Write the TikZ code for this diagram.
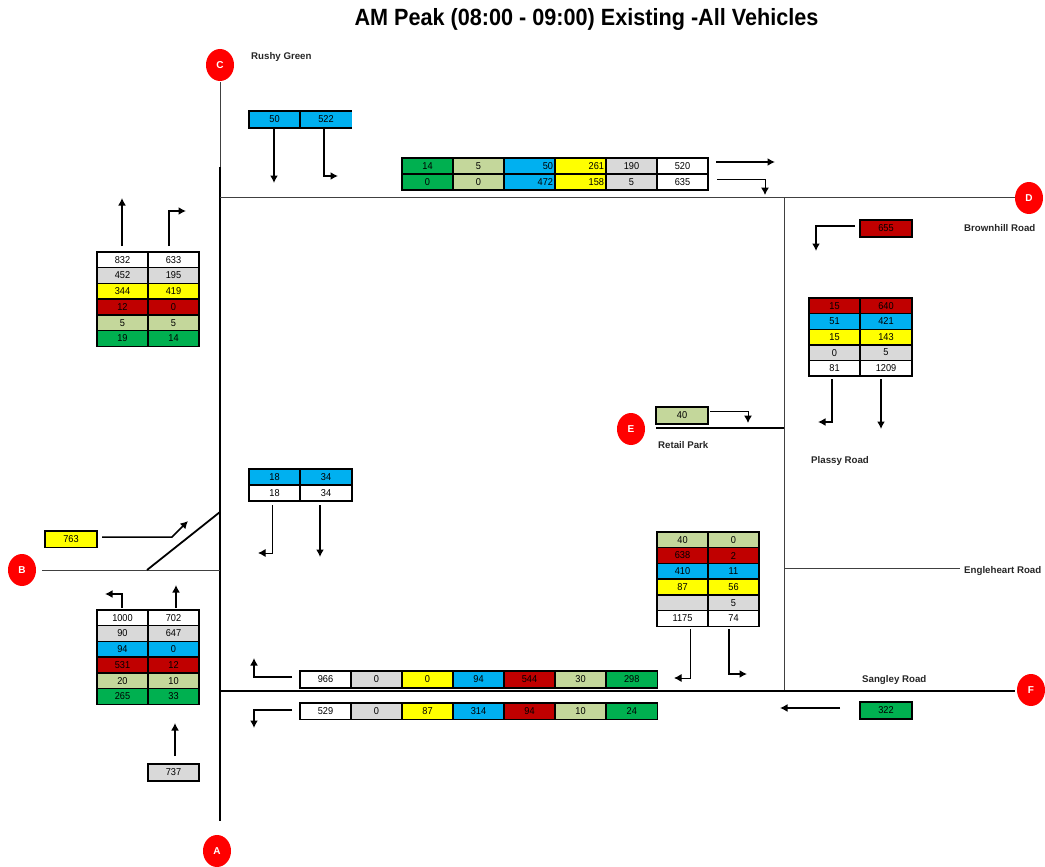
\documentclass[tikz,border=0pt]{standalone}
\usepackage{fontspec}
\setmainfont{Liberation Sans}
\usetikzlibrary{arrows.meta,shapes.geometric}
\definecolor{cgreen}{HTML}{00B050}
\definecolor{colive}{HTML}{C4D79B}
\definecolor{cblue}{HTML}{00B0F0}
\definecolor{cyel}{HTML}{FFFF00}
\definecolor{cred}{HTML}{C00000}
\definecolor{cgrey}{HTML}{D9D9D9}
\tikzset{
  cell/.style={draw=black,line width=1.4pt,inner sep=0pt,outer sep=0pt,anchor=north west,font=\fontsize{10}{10}\selectfont\addfontfeature{FakeStretch=0.92},text=black},
  road/.style={draw=black!75,line width=1pt},
  mainroad/.style={draw=black,line width=1.8pt},
  arr/.style={draw=black,line width=1.5pt,-{Latex[length=7.5pt,width=8pt]}},
  thinarr/.style={draw=black,line width=1pt,-{Latex[length=7.5pt,width=8pt]}},
  pin/.style={ellipse,fill=red,inner sep=0pt,minimum width=28pt,minimum height=32pt,text=white,font=\fontsize{10}{10}\selectfont\bfseries},
  lab/.style={anchor=west,inner sep=0pt,font=\fontsize{9.7}{10}\selectfont\bfseries,text=black!85},
}
% name, x, y, w, h, colour, text
\newcommand{\cellbox}[7]{\node[cell,fill=#6,minimum width=#4pt,minimum height=#5pt,text width=#4pt-4pt,align=center] (#1) at (#2,#3) {#7};}
\newcommand{\cellr}[7]{\node[cell,fill=#6,minimum width=#4pt,minimum height=#5pt,text width=#4pt-4pt,align=right] (#1) at (#2,#3) {#7};}
\begin{document}
\begin{tikzpicture}[x=1pt,y=-1pt]
\useasboundingbox (0,0) rectangle (1045,867);
\node[font=\fontsize{23.5}{24}\selectfont\bfseries,inner sep=0pt] (title) at (586.5,19) {\addfontfeature{FakeStretch=0.92}AM Peak (08:00 - 09:00) Existing -All Vehicles};

% roads
\coordinate (rn) at (220,82); \coordinate (rj) at (220,167); \coordinate (rs) at (220,821);
\coordinate (hn) at (220,197); \coordinate (he) at (1015,197);
\coordinate (vt) at (784,197); \coordinate (vb) at (784,691);
\coordinate (ew) at (656,428); \coordinate (ee) at (784,428);
\coordinate (eg1) at (784,568); \coordinate (eg2) at (960,568);
\coordinate (sw) at (220,691); \coordinate (se) at (1015,691);
\coordinate (bw) at (42,570); \coordinate (be) at (220,570);
\coordinate (d1) at (147,570); \coordinate (d2) at (220,512);
\draw[road] (rn) -- (rj);
\draw[mainroad] (rj) -- (rs);
\draw[road] (hn) -- (he);
\draw[road] (vt) -- (vb);
\draw[mainroad] (ew) -- (ee);
\draw[road] (eg1) -- (eg2);
\draw[mainroad] (sw) -- (se);
\draw[road] (bw) -- (be);
\draw[mainroad] (d1) -- (d2);

% pins
\node[pin] (pC) at (220,65) {C};
\node[pin] (pD) at (1029,198) {D};
\node[pin] (pE) at (631,429) {E};
\node[pin] (pB) at (22,570) {B};
\node[pin] (pF) at (1031,690) {F};
\node[pin] (pA) at (217,851) {A};

% labels
\node[lab] (l1) at (251,57) {Rushy Green};
\node[lab] (l2) at (964,228) {Brownhill Road};
\node[lab] (l3) at (658,445) {Retail Park};
\node[lab] (l4) at (811,461) {Plassy Road};
\node[lab] (l5) at (964,571) {Engleheart Road};
\node[lab] (l6) at (862,680) {Sangley Road};

% top-left pair
\node[cell,draw=none,fill=cblue,minimum width=52pt,minimum height=17pt,text width=48pt,align=center] (a2) at (300,111) {522};
\draw[line width=1.4pt] (a2.north west) -- (a2.north east);
\draw[line width=1.4pt] (a2.south west) -- (a2.south east);
\cellbox{a1}{249}{111}{51}{17}{cblue}{50}

% top strip
\cellbox{b1}{402}{158}{51}{16}{cgreen}{14}
\cellbox{b2}{453}{158}{51}{16}{colive}{5}
\cellr{b3}{504}{158}{51}{16}{cblue}{50}
\cellr{b4}{555}{158}{51}{16}{cyel}{261}
\cellbox{b5}{606}{158}{51}{16}{cgrey}{190}
\cellbox{b6}{657}{158}{51}{16}{white}{520}
\cellbox{b7}{402}{174}{51}{16}{cgreen}{0}
\cellbox{b8}{453}{174}{51}{16}{colive}{0}
\cellr{b9}{504}{174}{51}{16}{cblue}{472}
\cellr{b10}{555}{174}{51}{16}{cyel}{158}
\cellbox{b11}{606}{174}{51}{16}{cgrey}{5}
\cellbox{b12}{657}{174}{51}{16}{white}{635}

% left table
\cellbox{c1}{97}{252}{51}{15.7}{white}{832}
\cellbox{c2}{148}{252}{51}{15.7}{white}{633}
\cellbox{c3}{97}{267.7}{51}{15.7}{cgrey}{452}
\cellbox{c4}{148}{267.7}{51}{15.7}{cgrey}{195}
\cellbox{c5}{97}{283.4}{51}{15.7}{cyel}{344}
\cellbox{c6}{148}{283.4}{51}{15.7}{cyel}{419}
\cellbox{c7}{97}{299.1}{51}{15.7}{cred}{12}
\cellbox{c8}{148}{299.1}{51}{15.7}{cred}{0}
\cellbox{c9}{97}{314.8}{51}{15.7}{colive}{5}
\cellbox{c10}{148}{314.8}{51}{15.7}{colive}{5}
\cellbox{c11}{97}{330.5}{51}{15.7}{cgreen}{19}
\cellbox{c12}{148}{330.5}{51}{15.7}{cgreen}{14}

% right table
\cellbox{d0}{860}{220}{52}{17}{cred}{655}
\cellbox{d1c}{809}{298}{51}{15.6}{cred}{15}
\cellbox{d2c}{860}{298}{52}{15.6}{cred}{640}
\cellbox{d3c}{809}{313.6}{51}{15.6}{cblue}{51}
\cellbox{d4c}{860}{313.6}{52}{15.6}{cblue}{421}
\cellbox{d5c}{809}{329.2}{51}{15.6}{cyel}{15}
\cellbox{d6c}{860}{329.2}{52}{15.6}{cyel}{143}
\cellbox{d7c}{809}{344.8}{51}{15.6}{cgrey}{0}
\cellbox{d8c}{860}{344.8}{52}{15.6}{cgrey}{5}
\cellbox{d9c}{809}{360.4}{51}{15.6}{white}{81}
\cellbox{d10c}{860}{360.4}{52}{15.6}{white}{1209}

% retail
\cellbox{e0}{656}{407}{52}{17}{colive}{40}

% inner-left
\cellbox{f1}{249}{469}{51}{16}{cblue}{18}
\cellbox{f2}{300}{469}{52}{16}{cblue}{34}
\cellbox{f3}{249}{485}{51}{16}{white}{18}
\cellbox{f4}{300}{485}{52}{16}{white}{34}

\cellbox{g0}{45}{531}{52}{16.5}{cyel}{763}

% lower-left table
\cellbox{h1}{97}{610}{51}{15.7}{white}{1000}
\cellbox{h2}{148}{610}{51}{15.7}{white}{702}
\cellbox{h3}{97}{625.7}{51}{15.7}{cgrey}{90}
\cellbox{h4}{148}{625.7}{51}{15.7}{cgrey}{647}
\cellbox{h5}{97}{641.4}{51}{15.7}{cblue}{94}
\cellbox{h6}{148}{641.4}{51}{15.7}{cblue}{0}
\cellbox{h7}{97}{657.1}{51}{15.7}{cred}{531}
\cellbox{h8}{148}{657.1}{51}{15.7}{cred}{12}
\cellbox{h9}{97}{672.8}{51}{15.7}{colive}{20}
\cellbox{h10}{148}{672.8}{51}{15.7}{colive}{10}
\cellbox{h11}{97}{688.5}{51}{15.7}{cgreen}{265}
\cellbox{h12}{148}{688.5}{51}{15.7}{cgreen}{33}
\cellbox{h0}{148}{764}{51}{17}{cgrey}{737}

% lower-right table
\cellbox{j1}{657}{532}{51}{15.7}{colive}{40}
\cellbox{j2}{708}{532}{51}{15.7}{colive}{0}
\cellbox{j3}{657}{547.7}{51}{15.7}{cred}{638}
\cellbox{j4}{708}{547.7}{51}{15.7}{cred}{2}
\cellbox{j5}{657}{563.4}{51}{15.7}{cblue}{410}
\cellbox{j6}{708}{563.4}{51}{15.7}{cblue}{11}
\cellbox{j7}{657}{579.1}{51}{15.7}{cyel}{87}
\cellbox{j8}{708}{579.1}{51}{15.7}{cyel}{56}
\cellbox{j9}{657}{594.8}{51}{15.7}{cgrey}{}
\cellbox{j10}{708}{594.8}{51}{15.7}{cgrey}{5}
\cellbox{j11}{657}{610.5}{51}{15.7}{white}{1175}
\cellbox{j12}{708}{610.5}{51}{15.7}{white}{74}

% bottom strips
\cellbox{k1}{300}{671}{51}{17}{white}{966}
\cellbox{k2}{351}{671}{51}{17}{cgrey}{0}
\cellbox{k3}{402}{671}{51}{17}{cyel}{0}
\cellbox{k4}{453}{671}{51}{17}{cblue}{94}
\cellbox{k5}{504}{671}{51}{17}{cred}{544}
\cellbox{k6}{555}{671}{51}{17}{colive}{30}
\cellbox{k7}{606}{671}{51.5}{17}{cgreen}{298}
\cellbox{m1}{300}{703}{51}{16.5}{white}{529}
\cellbox{m2}{351}{703}{51}{16.5}{cgrey}{0}
\cellbox{m3}{402}{703}{51}{16.5}{cyel}{87}
\cellbox{m4}{453}{703}{51}{16.5}{cblue}{314}
\cellbox{m5}{504}{703}{51}{16.5}{cred}{94}
\cellbox{m6}{555}{703}{51}{16.5}{colive}{10}
\cellbox{m7}{606}{703}{51.5}{16.5}{cgreen}{24}
\cellbox{n0}{860}{702}{52}{17}{cgreen}{322}

% arrows: name ends
\coordinate (A1s) at (274,129); \coordinate (A1e) at (274,183);
\coordinate (A2s) at (324,129); \coordinate (A2m) at (324,176); \coordinate (A2e) at (338,176);
\coordinate (B1s) at (716,162); \coordinate (B1e) at (775,162);
\coordinate (B2s) at (717,179); \coordinate (B2m) at (765,179); \coordinate (B2e) at (765,195);
\coordinate (C1s) at (122,246); \coordinate (C1e) at (122,198);
\coordinate (C2s) at (169,246); \coordinate (C2m) at (169,211); \coordinate (C2e) at (186,211);
\coordinate (D0s) at (855,226); \coordinate (D0m) at (816,226); \coordinate (D0e) at (816,251);
\coordinate (D1s) at (832,379); \coordinate (D1m) at (832,422); \coordinate (D1e) at (818,422);
\coordinate (D2s) at (881,379); \coordinate (D2e) at (881,429);
\coordinate (E0s) at (710,411); \coordinate (E0m) at (748,411); \coordinate (E0e) at (748,423);
\coordinate (G0s) at (102,537); \coordinate (G0m) at (172,537); \coordinate (G0e) at (188,521);
\coordinate (F1s) at (272,505); \coordinate (F1m) at (272,553); \coordinate (F1e) at (258,553);
\coordinate (F2s) at (320,505); \coordinate (F2e) at (320,557);
\coordinate (H1s) at (122,608); \coordinate (H1m) at (122,594); \coordinate (H1e) at (105,594);
\coordinate (H2s) at (176,608); \coordinate (H2e) at (176,585);
\coordinate (H0s) at (175,756); \coordinate (H0e) at (175,723);
\coordinate (J1s) at (690,629); \coordinate (J1m) at (690,678); \coordinate (J1e) at (674,678);
\coordinate (J2s) at (729,629); \coordinate (J2m) at (729,674); \coordinate (J2e) at (747,674);
\coordinate (K1s) at (292,677); \coordinate (K1m) at (254,677); \coordinate (K1e) at (254,658);
\coordinate (M1s) at (292,710); \coordinate (M1m) at (254,710); \coordinate (M1e) at (254,728);
\coordinate (N0s) at (840,708); \coordinate (N0e) at (780,708);

\draw[arr] (A1s) -- (A1e);
\draw[arr] (A2s) -- (A2m) -- (A2e);
\draw[arr] (B1s) -- (B1e);
\draw[thinarr] (B2s) -- (B2m) -- (B2e);
\draw[arr] (C1s) -- (C1e);
\draw[arr] (C2s) -- (C2m) -- (C2e);
\draw[arr] (D0s) -- (D0m) -- (D0e);
\draw[arr] (D1s) -- (D1m) -- (D1e);
\draw[arr] (D2s) -- (D2e);
\draw[thinarr] (E0s) -- (E0m) -- (E0e);
\draw[arr] (G0s) -- (G0m) -- (G0e);
\draw[thinarr] (F1s) -- (F1m) -- (F1e);
\draw[arr] (F2s) -- (F2e);
\draw[arr] (H1s) -- (H1m) -- (H1e);
\draw[arr] (H2s) -- (H2e);
\draw[arr] (H0s) -- (H0e);
\draw[thinarr] (J1s) -- (J1m) -- (J1e);
\draw[arr] (J2s) -- (J2m) -- (J2e);
\draw[arr] (K1s) -- (K1m) -- (K1e);
\draw[arr] (M1s) -- (M1m) -- (M1e);
\draw[arr] (N0s) -- (N0e);
\end{tikzpicture}
\end{document}
